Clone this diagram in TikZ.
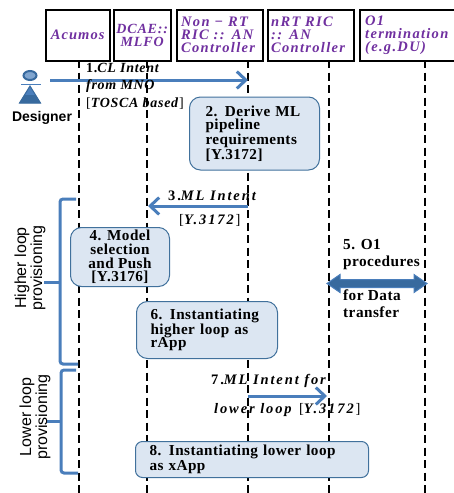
\documentclass[tikz,border=0pt]{standalone}
\usepackage{fontspec}
\setmainfont{Liberation Serif}[LetterSpace=3]
\setsansfont{Liberation Sans}
\usetikzlibrary{arrows.meta,positioning}
\definecolor{blueline}{HTML}{4A7EBB}
\definecolor{boxfill}{HTML}{DCE6F2}
\definecolor{boxdraw}{HTML}{41719C}
\definecolor{actor}{HTML}{386A9E}
\definecolor{purp}{HTML}{7030A0}
\tikzset{
  x=1pt,y=-1pt,
  head/.style={draw=black,line width=2.4pt,fill=white,inner sep=0pt,anchor=north west,text=purp,font=\fontsize{14.5}{13}\selectfont\addfontfeature{LetterSpace=9}\bfseries\itshape,align=left},
  life/.style={draw=black,line width=2pt,dash pattern=on 8pt off 4.5pt},
  stepbox/.style={draw=boxdraw,line width=1pt,fill=boxfill,rounded corners=11pt,inner sep=0pt,anchor=north west,font=\fontsize{15.2}{13.6}\selectfont\bfseries,align=left},
  msg/.style={draw=blueline,line width=3pt,-{Straight Barb[length=9pt,width=17pt,line width=3pt]}},
  lab/.style={inner sep=0pt,font=\fontsize{14}{17.5}\selectfont\addfontfeature{LetterSpace=5}\bfseries,align=left,anchor=north west},
  widelab/.style={inner sep=0pt,font=\fontsize{14.5}{17}\selectfont\addfontfeature{LetterSpace=13}\bfseries,align=left,anchor=west},
  freetext/.style={inner sep=0pt,anchor=north west,font=\fontsize{15.3}{17}\selectfont\bfseries,align=left},
  brace/.style={draw=blueline,line width=3pt,rounded corners=3pt},
  rot/.style={rotate=90,inner sep=0pt,font=\fontsize{16}{12.5}\selectfont\sffamily,align=center}
}
\begin{document}
\begin{tikzpicture}
\useasboundingbox (0,0) rectangle (454,493);
% headers
\node[head,minimum width=64pt,minimum height=51pt,align=center,font=\fontsize{14.5}{13}\selectfont\addfontfeature{LetterSpace=7}\bfseries\itshape] (h1) at (44.5,8.5) {Acumos};
\node[head,minimum width=57pt,minimum height=51pt,align=center,font=\fontsize{14}{13}\selectfont\addfontfeature{LetterSpace=6}\bfseries\itshape] (h2) at (112.5,8.5) {DCAE::\\MLFO};
\node[head,minimum width=86pt,minimum height=51pt,text width=78pt] (h3) at (176,8.5) {Non − RT\\RIC :: AN\\Controller};
\node[head,minimum width=86pt,minimum height=51pt,text width=80pt] (h4) at (267,8.5) {nRT RIC\\:: AN\\Controller};
\node[head,minimum width=110pt,minimum height=51pt,text width=100pt] (h5) at (359,8.5) {O1\\termination\\(e.g.DU)};
% lifeline ends
\coordinate (e1) at (79,493);
\coordinate (e2) at (147,493);
\coordinate (e3) at (248,493);
\coordinate (e4) at (328.5,493);
\coordinate (e5) at (425,493);
\coordinate (t1) at (79,60);
\coordinate (t2) at (147,60);
\coordinate (t3) at (248,60);
\coordinate (t4) at (328.5,60);
\coordinate (t5) at (425,60);
\foreach \i in {1,...,5} \draw[life] (t\i) -- (e\i);
% actor
\draw[actor,line width=2pt,fill=blueline!70] (30,75.5) ellipse [x radius=6.5pt,y radius=4.5pt];
\draw[blueline,line width=1pt] (21,84.5) -- (41,84.5);
\draw[actor,line width=1pt,fill=blueline] (19.5,103) -- (30,86) -- (40.5,103) -- cycle;
\fill[actor] (19.5,103) -- (24.5,95) -- (35.5,95) -- (40.5,103) -- cycle;
\node[inner sep=0pt,font=\fontsize{14}{14}\selectfont\sffamily\bfseries] (des) at (42,118) {Designer};
% step 1
\coordinate (a1s) at (50,80);
\coordinate (a1e) at (248,80);
\draw[msg] (a1s) -- (a1e);
\node[lab] (l1) at (86,63) {1.\textit{CL Intent}\\\textit{from MNO}\\{\mdseries[}\textit{TOSCA based}{\mdseries]}};
% step 2
\node[stepbox,minimum width=130pt,minimum height=73pt,text width=105pt] (s2) at (189,96.5) {\hspace*{3.5pt}2. Derive ML\\\hspace*{3.5pt}pipeline\\\hspace*{3.5pt}requirements\\\hspace*{3.5pt}[Y.3172]};
% step 3
\coordinate (a3s) at (248,206);
\coordinate (a3e) at (148,206);
\draw[msg] (a3s) -- (a3e);
\node[widelab] (l3a) at (168,196) {3.\textit{ML Intent}};
\node[widelab] (l3b) at (179,220) {{\mdseries[}\textit{Y.3172}{\mdseries]}};
% step 4
\node[stepbox,minimum width=99pt,minimum height=59pt,align=center] (s4) at (70,227) {4. Model\\selection\\and Push\\{[}Y.3176{]}};
% step 5
\node[freetext] (s5a) at (343,239) {5. O1\\procedures};
\node[freetext] (s5b) at (343,290) {for Data\\transfer};
\coordinate (d1) at (327,283.5);
\coordinate (d2) at (427,283.5);
\draw[draw=blueline,line width=1pt,fill=actor] (d1) -- ++(13,-9) -- ++(0,5) -- ++(74,0) -- ++(0,-5) -- (d2) -- ++(-13,9) -- ++(0,-5) -- ++(-74,0) -- ++(0,5) -- cycle;
% step 6
\node[stepbox,minimum width=141pt,minimum height=57pt,text width=126pt] (s6) at (136,301) {\hspace*{6.5pt}6. Instantiating\\\hspace*{6.5pt}higher loop as\\\hspace*{6.5pt}rApp};
% step 7
\coordinate (a7s) at (248,396);
\coordinate (a7e) at (327,396);
\draw[msg] (a7s) -- (a7e);
\node[widelab] (l7a) at (211,381) {7.\textit{ML Intent for}};
\node[widelab] (l7b) at (214,410) {\textit{lower loop }{\mdseries[}\textit{Y.3172}{\mdseries]}};
% step 8
\node[stepbox,rounded corners=7pt,minimum width=233pt,minimum height=36pt,text width=218pt,font=\fontsize{15.2}{12.5}\selectfont\bfseries] (s8) at (135,441) {\hspace*{6.5pt}8. Instantiating lower loop\\\hspace*{6.5pt}as xApp};
% braces
\coordinate (b1t) at (76,199);
\coordinate (b1b) at (78,364);
\coordinate (b1m) at (44,282);
\coordinate (b1j) at (60,282);
\coordinate (b2t) at (76,370);
\coordinate (b2b) at (78,473);
\coordinate (b2m) at (47,421);
\coordinate (b2j) at (61,421);
\draw[brace] (b1t) -- (60,199) -- (60,364) -- (b1b);
\draw[brace] (b1m) -- (b1j);
\draw[brace] (b2t) -- (61,370) -- (61,473) -- (b2b);
\draw[brace] (b2m) -- (b2j);
\node[rot] (r1) at (30,268) {Higher loop\\provisioning};
\node[rot] (r2) at (35,417) {Lower loop\\provisioning};
\end{tikzpicture}
\end{document}
